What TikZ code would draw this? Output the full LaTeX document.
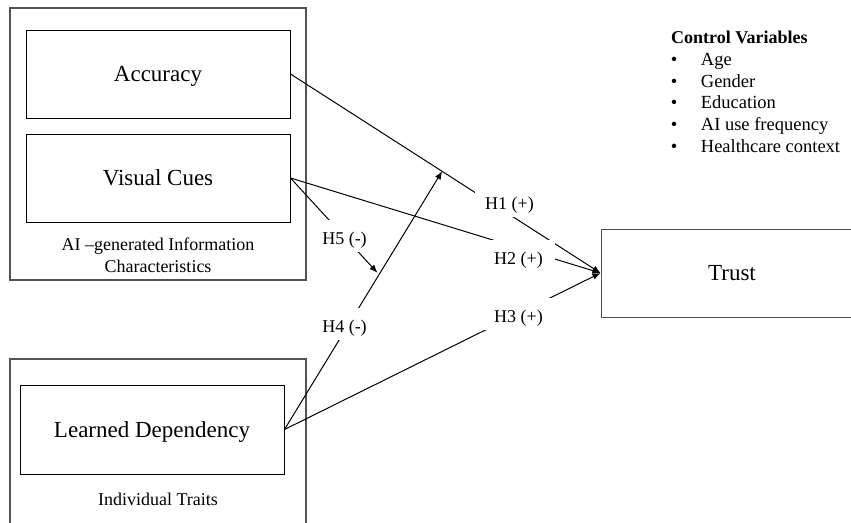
\documentclass[tikz,border=0pt]{standalone}
\usepackage{fontspec}
\setmainfont{Liberation Serif}
\usetikzlibrary{calc,arrows.meta}
\tikzset{
  inbox/.style={draw=black, line width=1pt, minimum width=264pt, minimum height=88pt, inner sep=0pt,
    font=\fontsize{23}{27}\selectfont, text height=15pt, text depth=0pt},
  outerbox/.style={draw=black!68, line width=1.1pt, inner sep=0pt},
  conn/.style={draw=black, line width=1pt},
  arr/.style={conn, -{Latex[length=8pt,width=6.5pt]}},
  hlab/.style={fill=white, anchor=base, inner xsep=10pt, inner ysep=0pt, text height=24pt, text depth=8pt,
    font=\fontsize{18}{21}\selectfont},
  smalltxt/.style={inner sep=0pt, font=\fontsize{18}{21}\selectfont},
  cvtxt/.style={inner sep=0pt, anchor=base west, font=\fontsize{18.5}{21}\selectfont},
  bul/.style={inner sep=0pt, anchor=base, font=\fontsize{18.5}{21}\selectfont}
}
\begin{document}
\begin{tikzpicture}[x=1pt, y=-1pt]
\clip (0,0) rectangle (851,522);
% outer group boxes
\node[outerbox, minimum width=296pt, minimum height=272pt] (grp1) at (158,144) {};
\node[outerbox, minimum width=296pt, minimum height=181pt] (grp2) at (158,449.5) {};
% construct boxes
\node[inbox] (acc) at (158,74) {Accuracy};
\node[inbox] (vc) at (158,178) {Visual Cues};
\node[inbox, minimum height=89pt] (ld) at (152,429.5) {Learned Dependency};
\node[inbox, draw=black!68, minimum width=262pt] (trust) at (732,273) {Trust};
% group captions
\node[smalltxt, anchor=base] (cap1) at (158,250) {AI –generated Information};
\node[smalltxt, anchor=base] (cap2) at (158,272.5) {Characteristics};
\node[smalltxt, anchor=base] (cap3) at (158,505) {Individual Traits};
% helper points
\coordinate (m1) at ($(acc.east)!0.489!(trust.west)$);
\coordinate (m2) at ($(ld.east)!0.6!(m1)$);
% connectors
\draw[arr] (acc.east) -- (trust.west);
\draw[arr] (vc.east) -- (trust.west);
\draw[arr] (ld.east) -- (trust.west);
\draw[arr] (ld.east) -- (m1);
\draw[arr, shorten >=2.5pt] (vc.east) -- (m2);
% hypothesis labels
\node[hlab] (h1) at (509.5,209) {H1 (+)};
\node[hlab, inner xsep=12pt] (h2) at (518.5,264) {H2 (+)};
\node[hlab] (h3) at (518.5,322) {H3 (+)};
\node[hlab] (h4) at (344.5,332) {H4 (-)};
\node[hlab] (h5) at (344.5,244) {H5 (-)};
% control variables
\node[inner sep=0pt, anchor=base west, font=\fontsize{18}{21}\selectfont\bfseries] (cvt) at (671,43) {Control Variables};
\node[bul] (b1) at (674,65.2) {\textbullet};
\node[cvtxt] (c1) at (700.7,65.2) {Age};
\node[bul] (b2) at (674,87) {\textbullet};
\node[cvtxt] (c2) at (700.7,87) {Gender};
\node[bul] (b3) at (674,108.8) {\textbullet};
\node[cvtxt] (c3) at (700.7,108.8) {Education};
\node[bul] (b4) at (674,130.6) {\textbullet};
\node[cvtxt] (c4) at (700.7,130.6) {AI use frequency};
\node[bul] (b5) at (674,152.4) {\textbullet};
\node[cvtxt] (c5) at (700.7,152.4) {Healthcare context};
\end{tikzpicture}
\end{document}
